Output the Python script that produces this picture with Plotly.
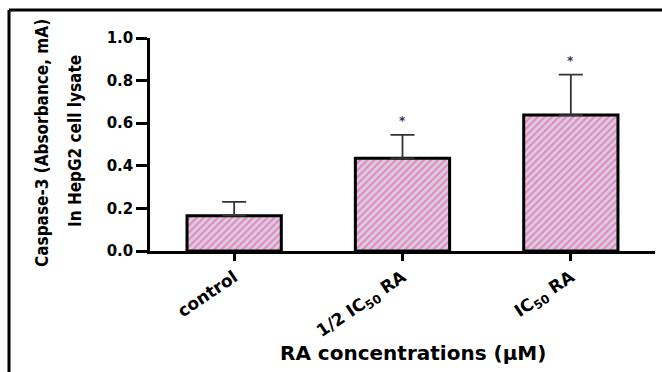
import plotly.graph_objects as go

categories = ["control", "1/2 IC<sub>50</sub> RA", "IC<sub>50</sub> RA"]
means = [0.166, 0.435, 0.638]
errors = [0.065, 0.11, 0.19]
significance = ["", "*", "*"]
y_ticks = [0.0, 0.2, 0.4, 0.6, 0.8, 1.0]

W, H = 662, 372
L, R, T, B = 150, 7, 38, 121
pw, ph = W - L - R, H - T - B

def px(x):
    return (x - L) / pw

def py(y):
    return (H - B - y) / ph

fig = go.Figure()
fig.add_trace(go.Bar(
    x=list(range(len(categories))),
    y=means,
    width=0.56,
    marker=dict(
        color="#d6d6d6",
        line=dict(color="black", width=3),
        pattern=dict(shape="/", fgcolor="#ff33cc", bgcolor="#d4d4d4", size=5, solidity=0.45),
    ),
    error_y=dict(type="data", array=errors, arrayminus=[0] * len(errors), symmetric=False,
                 color="#333333", thickness=1.8, width=12),
    showlegend=False,
))

for i, (m, e, s) in enumerate(zip(means, errors, significance)):
    if s:
        fig.add_annotation(x=i, y=m + e, text=s, showarrow=False, yshift=14,
                           font=dict(family="DejaVu Sans", size=12, color="#333355", weight="bold"))

tick_y_font = dict(family="DejaVu Sans", size=15, color="black", weight="bold")
tick_x_font = dict(family="DejaVu Sans", size=17, color="black", weight="bold")

fig.update_layout(
    width=W, height=H,
    margin=dict(l=L, r=R, t=T, b=B),
    plot_bgcolor="white", paper_bgcolor="white",
    xaxis=dict(
        range=[-0.5, 2.5], tickmode="array", tickvals=list(range(len(categories))),
        ticktext=categories, tickangle=-34, ticks="outside", ticklen=7, tickwidth=2.5,
        tickcolor="black", showline=True, linecolor="black", linewidth=2.5,
        showgrid=False, zeroline=False, tickfont=tick_x_font,
    ),
    yaxis=dict(
        range=[0, 1.0], tickmode="array", tickvals=y_ticks,
        ticktext=[f"{v:.1f}" for v in y_ticks], ticks="outside", ticklen=11, tickwidth=2.5,
        tickcolor="black", showline=True, linecolor="black", linewidth=2.5,
        showgrid=False, zeroline=False, tickfont=tick_y_font,
    ),
)

ytitle_font = dict(family="DejaVu Sans Condensed", size=17, color="black", weight="bold")
fig.add_annotation(xref="paper", yref="paper", x=px(42), y=py(143), xanchor="center", yanchor="middle",
                   text="Caspase-3 (Absorbance, mA)", textangle=-90, showarrow=False,
                   font=ytitle_font)
fig.add_annotation(xref="paper", yref="paper", x=px(75), y=py(141), xanchor="center", yanchor="middle",
                   text="In HepG2 cell lysate", textangle=-90, showarrow=False,
                   font=ytitle_font)
fig.add_annotation(xref="paper", yref="paper", x=px(413), y=py(353), xanchor="center", yanchor="middle",
                   text="RA concentrations (μM)", showarrow=False,
                   font=dict(family="DejaVu Sans", size=20, color="black", weight="bold"))

fig.add_shape(type="line", xref="paper", yref="paper", x0=px(9), y0=py(10), x1=px(W + 5), y1=py(10),
              line=dict(color="black", width=3))
fig.add_shape(type="line", xref="paper", yref="paper", x0=px(9), y0=py(10), x1=px(9), y1=py(H + 5),
              line=dict(color="black", width=3))

fig.write_html("out.html", config={"displayModeBar": False},
               post_script="document.body.style.margin='0';document.body.style.overflow='hidden';")
